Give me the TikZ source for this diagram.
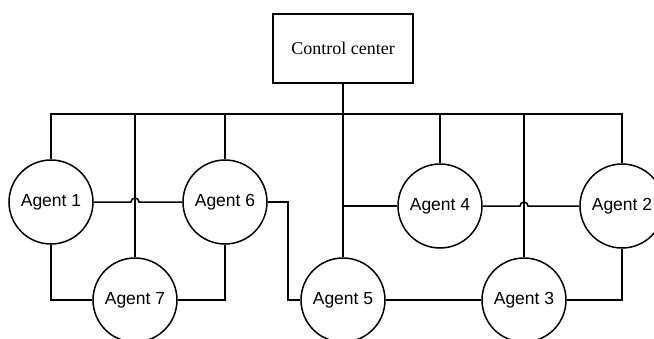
\documentclass[tikz,border=0pt]{standalone}
\usepackage{fontspec}
\setmainfont{Liberation Serif}
\newfontfamily\agentfont{Liberation Sans}
\begin{document}
\begin{tikzpicture}[x=1pt,y=-1pt,
  wire/.style={line width=1.5pt, line join=miter},
  agent/.style={circle, draw, line width=1.5pt, minimum size=84pt, inner sep=0pt,
    font=\agentfont\fontsize{17.5}{20}\selectfont},
  center/.style={draw, line width=1.5pt, minimum width=140pt, minimum height=69pt,
    inner sep=0pt, font=\fontsize{18}{21}\selectfont}]
\useasboundingbox (0,0) rectangle (654,338);
\clip (0,0) rectangle (654,338);

% control center and agents
\node[center] (cc) at (343,48.5) {Control center};
\node[agent] (a1) at (51,202) {Agent 1};
\node[agent] (a6) at (225,202) {Agent 6};
\node[agent] (a7) at (135,300) {Agent 7};
\node[agent] (a5) at (343,300) {Agent 5};
\node[agent] (a3) at (524,300) {Agent 3};
\node[agent] (a4) at (440,206) {Agent 4};
\node[agent] (a2) at (622,206) {Agent 2};

% helper coordinates: bus level and the bend of the Agent 6 -- Agent 5 link
\coordinate (bus) at (0,114);
\coordinate (bend) at (288,0);

% common bus from the control center
\draw[wire] (a1.north) -- (a1.north |- bus) -- (a2.north |- bus) -- (a2.north);
\draw[wire] (cc.south) -- (cc.south |- bus);
\draw[wire] (a7.north) -- (a7.north |- bus);
\draw[wire] (a6.north) -- (a6.north |- bus);
\draw[wire] (a5.north) -- (a5.north |- bus);
\draw[wire] (a4.north) -- (a4.north |- bus);
\draw[wire] (a3.north) -- (a3.north |- bus);

% links between agents (hops where a link crosses a bus drop)
\draw[wire] (a1.east) -- ([xshift=-4pt]a1.east -| a7.north)
  arc[start angle=180, end angle=0, radius=4pt] -- (a6.west);
\draw[wire] (a1.south) |- (a7.west);
\draw[wire] (a6.south) |- (a7.east);
\draw[wire] (a6.east) -- (a6.east -| bend) |- (a5.west);
\draw[wire] (a4.west) -- (a4.west -| a5.north);
\draw[wire] (a4.east) -- ([xshift=-4pt]a4.east -| a3.north)
  arc[start angle=180, end angle=0, radius=4pt] -- (a2.west);
\draw[wire] (a5.east) -- (a3.west);
\draw[wire] (a3.east) -| (a2.south);
\end{tikzpicture}
\end{document}
